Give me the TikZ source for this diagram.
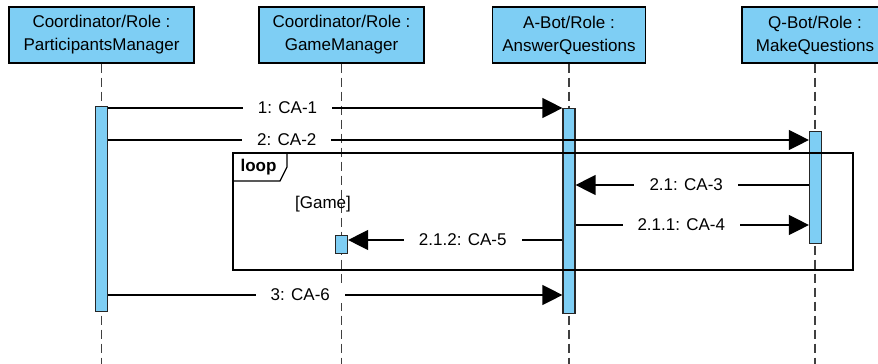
\documentclass[tikz,border=0pt]{standalone}
\usepackage{fontspec}
\setmainfont{Liberation Sans}
\usepackage{xcolor}
\usepackage{tikz}
\usetikzlibrary{arrows.meta}
\definecolor{lifeblue}{RGB}{126,206,244}

\begin{document}
\begin{tikzpicture}[x=1pt,y=-1pt,
  role/.style={draw=black,line width=1.3pt,fill=lifeblue,align=center,minimum height=56pt,inner sep=0pt,font=\fontsize{17}{23}\selectfont},
  bar/.style={draw=black!85,line width=1.2pt,fill=lifeblue,minimum width=12pt,inner sep=0pt,anchor=north},
  lifeline/.style={draw=black!75,line width=1.3pt,dash pattern=on 9pt off 5pt},
  msg/.style={line width=1.3pt,-{Triangle[length=20pt,width=20pt]}},
  lbl/.style={fill=white,inner xsep=15pt,inner ysep=2pt,font=\fontsize{17}{20}\selectfont}]
\useasboundingbox (0,0) rectangle (878,364);
% roles
\node[role,minimum width=185pt] (pm) at (101.5,35) {Coordinator/Role :\\ParticipantsManager};
\node[role,minimum width=165pt] (gm) at (341.5,35) {Coordinator/Role :\\GameManager};
\node[role,minimum width=153pt] (aq) at (569,35) {A-Bot/Role :\\AnswerQuestions};
\node[role,minimum width=146pt] (mq) at (815,35) {Q-Bot/Role :\\MakeQuestions};
% lifelines
\coordinate (bottom) at (0,364);
\foreach \r in {pm,gm,aq,mq}
  \draw[lifeline] (\r.south) -- (\r.south |- bottom);
% activations
\node[bar,minimum height=205pt] (pmbar) at (101.5,106) {};
\node[bar,minimum height=205pt] (aqbar) at (569,108) {};
\node[bar,minimum height=112pt] (mqbar) at (815.5,131) {};
\node[bar,minimum height=18pt] (gmbar) at (341.5,235) {};
% loop fragment
\draw[line width=1.3pt] (233,153) rectangle (853,270);
\draw[line width=1.3pt] (287,153) -- (287,167) -- (280,181) -- (233,181);
\node[font=\fontsize{17}{20}\selectfont\bfseries] (looptag) at (258.5,167) {loop};
\node[font=\fontsize{17}{20}\selectfont] (guard) at (323,204) {[Game]};
% messages
\draw[msg] (pmbar.east |- 0,108) -- node[lbl,pos=0.395] {1: CA-1} (aqbar.west |- 0,108);
\draw[msg] (pmbar.east |- 0,140) -- node[lbl,pos=0.255] {2: CA-2} (mqbar.west |- 0,140);
\draw[msg] (mqbar.west |- 0,185) -- node[lbl,pos=0.526] {2.1: CA-3} (aqbar.east |- 0,185);
\draw[msg] (aqbar.east |- 0,225) -- node[lbl,pos=0.453] {2.1.1: CA-4} (mqbar.west |- 0,225);
\draw[msg] (aqbar.west |- 0,240) -- node[lbl,pos=0.465] {2.1.2: CA-5} (gmbar.east |- 0,240);
\draw[msg] (pmbar.east |- 0,295) -- node[lbl,pos=0.423] {3: CA-6} (aqbar.west |- 0,295);
\end{tikzpicture}
\end{document}
